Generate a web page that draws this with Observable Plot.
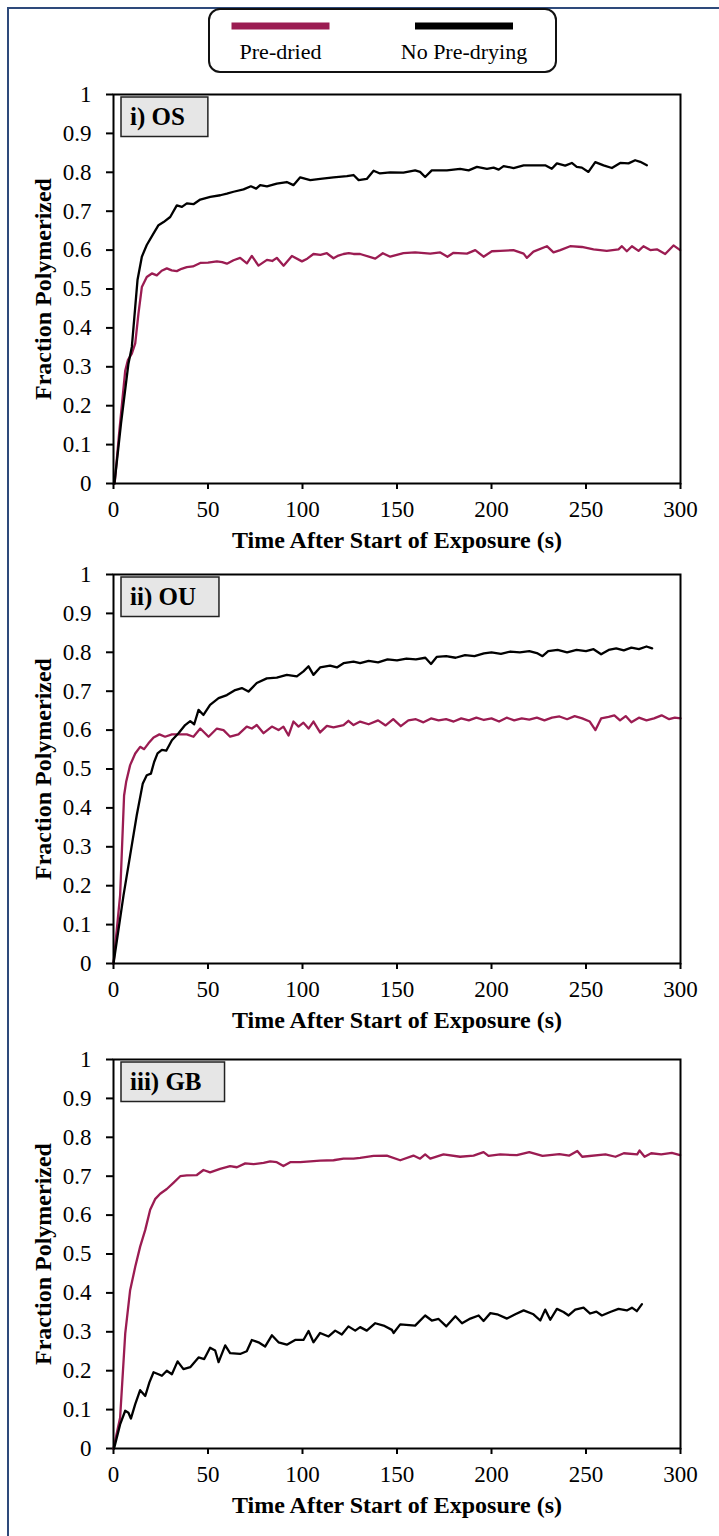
<!DOCTYPE html>
<html><head><meta charset="utf-8">
<script src="https://cdn.jsdelivr.net/npm/d3@7"></script>
<script src="https://cdn.jsdelivr.net/npm/@observablehq/plot@0.6"></script>
<style>
html,body{margin:0;padding:0;background:#fff;}
#root{position:relative;width:719px;height:1536px;overflow:hidden;background:#fff;}
#border{position:absolute;left:7px;top:7px;right:-10px;bottom:-10px;border-left:2px solid #2e4a7b;border-top:2px solid #2e4a7b;}
</style></head>
<body><div id="root"><div id="border"></div></div>
<script>
const SERIF = "'Liberation Serif','Times New Roman',Times,serif";
const seriesNames = ["Pre-dried", "No Pre-drying"];
const seriesColors = ["#9b1c52", "#000000"];
const panelLabels = ["i) OS", "ii) OU", "iii) GB"];
const xTicks = [0, 50, 100, 150, 200, 250, 300];
const yTicks = [0, 0.1, 0.2, 0.3, 0.4, 0.5, 0.6, 0.7, 0.8, 0.9, 1];
const xTitle = "Time After Start of Exposure (s)";
const yTitle = "Fraction Polymerized";

// [time (s), fraction polymerized]
const osPreDried = [[0.6,0],[3,0.13],[6.2,0.29],[7.6,0.317],[9.7,0.334],[11.5,0.36],[13.2,0.437],[15,0.505],[17.6,0.531],[20.3,0.54],[22.9,0.535],[25.5,0.547],[28.2,0.553],[30.8,0.548],[33.5,0.546],[36,0.552],[38.8,0.556],[42,0.558],[45.9,0.567],[50,0.568],[54.7,0.571],[57.5,0.569],[60,0.565],[63.5,0.574],[67,0.58],[70.6,0.566],[73.2,0.585],[76.7,0.56],[81.2,0.575],[84,0.572],[86.4,0.58],[90,0.56],[94.4,0.585],[99.7,0.571],[102.5,0.578],[105.8,0.59],[109.5,0.588],[112.9,0.592],[116.4,0.579],[119,0.586],[121.7,0.59],[124.5,0.592],[127,0.59],[130.5,0.59],[138.5,0.578],[142.5,0.592],[146.4,0.583],[153.4,0.592],[159.6,0.594],[167.6,0.591],[172.9,0.594],[176.7,0.583],[179.9,0.593],[187,0.591],[191.4,0.6],[195.8,0.583],[200.2,0.597],[204.6,0.598],[211.6,0.6],[217,0.591],[218.7,0.58],[222.2,0.596],[229.3,0.61],[232.8,0.594],[236.4,0.6],[241.6,0.61],[247.8,0.608],[254,0.602],[261,0.598],[267.2,0.602],[269,0.61],[271.6,0.597],[274.3,0.61],[277.8,0.598],[280.4,0.61],[284,0.6],[287.5,0.602],[291.9,0.59],[296.3,0.612],[299.8,0.6]];
const osNoPreDrying = [[0.5,0],[4,0.155],[7.9,0.308],[9.7,0.351],[11.5,0.454],[12.7,0.523],[15,0.583],[17.6,0.613],[21.2,0.643],[23.8,0.664],[26.5,0.672],[30,0.685],[33.5,0.715],[36.2,0.711],[38.8,0.72],[42.3,0.718],[45.9,0.73],[51.2,0.737],[56.5,0.741],[60,0.745],[63.5,0.75],[68.8,0.756],[72.7,0.764],[75.5,0.758],[77.6,0.767],[81.2,0.764],[86.4,0.771],[91.7,0.775],[95.2,0.767],[98.8,0.787],[104.1,0.78],[109.4,0.783],[116.4,0.787],[123.5,0.79],[127,0.793],[129.7,0.78],[134,0.783],[137.6,0.804],[141,0.797],[146.4,0.8],[153.4,0.799],[159.6,0.805],[162.2,0.801],[164.9,0.788],[168.4,0.805],[176.4,0.805],[183.4,0.809],[187.9,0.805],[192.3,0.814],[197.6,0.809],[201.1,0.812],[203.8,0.807],[206.4,0.816],[211.7,0.811],[217,0.818],[222.2,0.818],[228.4,0.818],[231.9,0.809],[234.6,0.823],[239,0.817],[242.5,0.824],[245.1,0.814],[247.8,0.812],[251.3,0.801],[254.9,0.826],[259.3,0.818],[263.7,0.811],[268.1,0.824],[272.5,0.823],[276,0.831],[278.7,0.827],[282.2,0.818]];
const ouPreDried = [[0,0],[3.5,0.175],[5.6,0.432],[6.7,0.467],[8.8,0.51],[11.5,0.54],[14.1,0.557],[16.2,0.551],[18.5,0.566],[21.2,0.581],[24.3,0.589],[27.3,0.583],[30.9,0.589],[35.3,0.589],[38.8,0.589],[42.3,0.583],[45.9,0.604],[50.3,0.583],[54.7,0.604],[58.2,0.6],[61.7,0.583],[66.1,0.589],[70.5,0.609],[73.2,0.604],[75.8,0.613],[79.4,0.592],[83.8,0.609],[87.3,0.6],[89.9,0.609],[92.6,0.586],[95.2,0.622],[97.9,0.609],[100.5,0.619],[103.2,0.604],[105.8,0.622],[109.3,0.594],[112.9,0.611],[116.4,0.607],[121.7,0.613],[124.3,0.624],[127,0.613],[130.5,0.622],[135,0.615],[140,0.625],[144,0.612],[148,0.628],[152,0.61],[156,0.625],[160,0.628],[164,0.62],[168,0.63],[172,0.625],[176,0.628],[180,0.622],[184,0.63],[188,0.625],[192,0.632],[196,0.626],[200,0.63],[204,0.622],[208,0.632],[212,0.625],[216,0.63],[220,0.627],[224,0.632],[228,0.625],[232,0.632],[236,0.635],[240,0.628],[244,0.636],[248,0.63],[252,0.622],[255,0.6],[258,0.63],[262,0.634],[265,0.638],[268,0.625],[271,0.636],[274,0.62],[278,0.632],[282,0.625],[286,0.63],[290,0.638],[294,0.628],[297,0.632],[300,0.63]];
const ouNoPreDrying = [[0,0],[5.3,0.175],[8.8,0.278],[12.3,0.381],[15.5,0.463],[17.6,0.484],[19.8,0.488],[21.5,0.518],[23.3,0.54],[25.6,0.549],[27.9,0.547],[30.9,0.574],[34.4,0.592],[37.9,0.613],[40.6,0.623],[42.7,0.615],[45,0.652],[47.6,0.639],[51.1,0.665],[55.6,0.682],[60,0.69],[64.4,0.703],[67.9,0.708],[71.4,0.699],[75.8,0.721],[81.1,0.733],[86.4,0.735],[91.7,0.742],[97,0.738],[100.5,0.751],[103.2,0.764],[105.8,0.742],[109.3,0.761],[114.6,0.766],[118.2,0.761],[121.7,0.772],[127,0.776],[130.5,0.772],[135,0.778],[140,0.774],[145,0.782],[150,0.779],[155,0.784],[160,0.782],[165,0.786],[168,0.77],[171,0.788],[176,0.79],[181,0.786],[186,0.793],[191,0.79],[196,0.797],[200,0.8],[205,0.796],[210,0.802],[215,0.8],[220,0.803],[224,0.798],[227,0.79],[230,0.803],[235,0.806],[240,0.8],[245,0.806],[250,0.803],[254,0.808],[258,0.795],[262,0.806],[266,0.81],[270,0.805],[274,0.812],[278,0.808],[282,0.815],[285,0.81]];
const gbPreDried = [[0,0],[3.5,0.079],[6.2,0.295],[8.8,0.407],[11.5,0.467],[14.1,0.519],[16.8,0.562],[19.4,0.614],[22,0.641],[24.7,0.655],[28.2,0.667],[31.7,0.683],[35.3,0.7],[38.8,0.702],[44.1,0.703],[47.6,0.716],[51.1,0.71],[56.4,0.719],[61.7,0.726],[65.3,0.723],[69.7,0.733],[74.1,0.731],[79.4,0.734],[82.9,0.738],[86.4,0.736],[89.9,0.726],[93.5,0.736],[98.8,0.736],[104.1,0.738],[109.3,0.74],[116.4,0.741],[121.7,0.745],[127,0.745],[130.5,0.747],[137.6,0.752],[144.6,0.753],[151.7,0.741],[158.7,0.753],[162.2,0.745],[164.9,0.756],[167.6,0.745],[174.6,0.756],[183.4,0.75],[190.5,0.753],[195.8,0.762],[198.4,0.752],[204.6,0.756],[213.4,0.754],[220,0.762],[227,0.752],[235.9,0.757],[241.2,0.753],[245.4,0.765],[248,0.75],[260.3,0.756],[265.6,0.75],[270,0.759],[277.1,0.756],[278.3,0.766],[281,0.75],[284.5,0.759],[289.8,0.756],[295.4,0.76],[299.8,0.754]];
const gbNoPreDrying = [[0.3,0],[3.5,0.062],[6.2,0.097],[7.9,0.092],[9.2,0.077],[11.5,0.114],[14.1,0.15],[16.8,0.135],[19,0.17],[21.2,0.196],[23.8,0.191],[25.6,0.187],[28.2,0.2],[30.9,0.191],[33.9,0.224],[37,0.204],[40.6,0.209],[45,0.234],[48,0.23],[51.1,0.259],[53.8,0.252],[55.6,0.222],[59.1,0.265],[61.7,0.245],[67,0.243],[70.5,0.25],[73.2,0.279],[76.7,0.273],[80.2,0.262],[83.8,0.291],[87.3,0.273],[91.7,0.267],[96.1,0.279],[100.5,0.279],[103.2,0.302],[105.8,0.273],[109.3,0.297],[113.8,0.288],[117.3,0.303],[120.8,0.293],[124.3,0.314],[127.9,0.303],[130.5,0.312],[134,0.303],[138.5,0.322],[142.9,0.316],[147.3,0.305],[148.2,0.297],[151.7,0.319],[159.6,0.316],[164.9,0.342],[168.4,0.329],[172,0.333],[176.1,0.314],[180.9,0.34],[184.4,0.322],[188.8,0.334],[193.2,0.342],[195.8,0.328],[199.4,0.348],[203,0.345],[208.2,0.334],[212.6,0.345],[217,0.355],[222.2,0.345],[225.8,0.329],[228.4,0.357],[231.1,0.331],[234.6,0.359],[238.1,0.351],[240.8,0.342],[244.3,0.357],[248.7,0.362],[252.2,0.347],[255.5,0.352],[258.4,0.342],[262.8,0.351],[267.2,0.359],[271.6,0.355],[274.3,0.362],[276.9,0.353],[279.6,0.371]];

const panelSeries = [[osPreDried, osNoPreDrying], [ouPreDried, ouNoPreDrying], [gbPreDried, gbNoPreDrying]];
const panelTops = [84, 564, 1049];

const root = document.getElementById("root");
const SVGNS = "http://www.w3.org/2000/svg";

// Legend
const leg = d3.select(root).append("svg")
  .attr("width", 719).attr("height", 80)
  .style("position", "absolute").style("left", "0px").style("top", "0px");
leg.append("rect").attr("x", 209).attr("y", 9).attr("width", 347).attr("height", 63).attr("rx", 11)
  .attr("fill", "#fff").attr("stroke", "#111").attr("stroke-width", 2);
seriesNames.forEach((name, i) => {
  leg.append("rect").attr("x", 231.5 + i * 183.5).attr("y", 22.5).attr("width", 98).attr("height", 7).attr("fill", seriesColors[i]);
  leg.append("text").attr("x", 280.5 + i * 183.5).attr("y", 59).attr("text-anchor", "middle")
    .attr("font-family", SERIF).attr("font-size", 22).attr("fill", "#000").text(name);
});

const measureCtx = document.createElement("canvas").getContext("2d");
function measureText(t, font) { measureCtx.font = font; return measureCtx.measureText(t).width; }

panelLabels.forEach((label, p) => {
  const [pre, no] = panelSeries[p];
  const plot = Plot.plot({
    width: 719, height: 471,
    marginLeft: 113, marginRight: 39, marginTop: 10, marginBottom: 72,
    style: {fontFamily: SERIF, fontSize: "23px", color: "#000", background: "transparent", overflow: "visible"},
    x: {domain: [0, 300]},
    y: {domain: [0, 1]},
    marks: [
      Plot.axisX({ticks: xTicks, tickSize: 6, tickPadding: 11, label: null, fontSize: 23, strokeWidth: 2}),
      Plot.axisY({ticks: yTicks, tickSize: 7, tickPadding: 15, label: null, fontSize: 23, strokeWidth: 2,
        tickFormat: d => String(+d.toFixed(1))}),
      Plot.line(pre, {x: d => d[0], y: d => d[1], stroke: seriesColors[0], strokeWidth: 2.3}),
      Plot.line(no, {x: d => d[0], y: d => d[1], stroke: seriesColors[1], strokeWidth: 2.3}),
      Plot.frame({stroke: "#000", strokeWidth: 2}),
      Plot.text([label], {frameAnchor: "top-left", dx: 16.5, dy: 22.5, textAnchor: "start", lineAnchor: "middle",
        fontWeight: "bold", fontSize: 25, fill: "#000"}),
      Plot.text([xTitle], {frameAnchor: "bottom", dy: 57, textAnchor: "middle", lineAnchor: "middle",
        fontWeight: "bold", fontSize: 24, fill: "#000"}),
      Plot.text([yTitle], {frameAnchor: "left", dx: -70, rotate: -90, textAnchor: "middle", lineAnchor: "middle",
        fontWeight: "bold", fontSize: 24, fill: "#000"})
    ]
  });
  plot.style.position = "absolute";
  plot.style.left = "0px";
  plot.style.top = panelTops[p] + "px";
  root.appendChild(plot);
  // grey box behind the panel label
  const t = [...plot.querySelectorAll("text")].find(e => e.textContent === label);
  if (t) {
    const w = measureText(label, "bold 25px " + SERIF);
    const rect = document.createElementNS(SVGNS, "rect");
    rect.setAttribute("x", 113 - 9);
    rect.setAttribute("y", 10 - 20);
    rect.setAttribute("width", w + 32);
    rect.setAttribute("height", 39.5);
    rect.setAttribute("fill", "#e6e6e6");
    rect.setAttribute("stroke", "#222");
    rect.setAttribute("stroke-width", 1.5);
    t.parentNode.insertBefore(rect, t);
  }
});
</script>
</body></html>
